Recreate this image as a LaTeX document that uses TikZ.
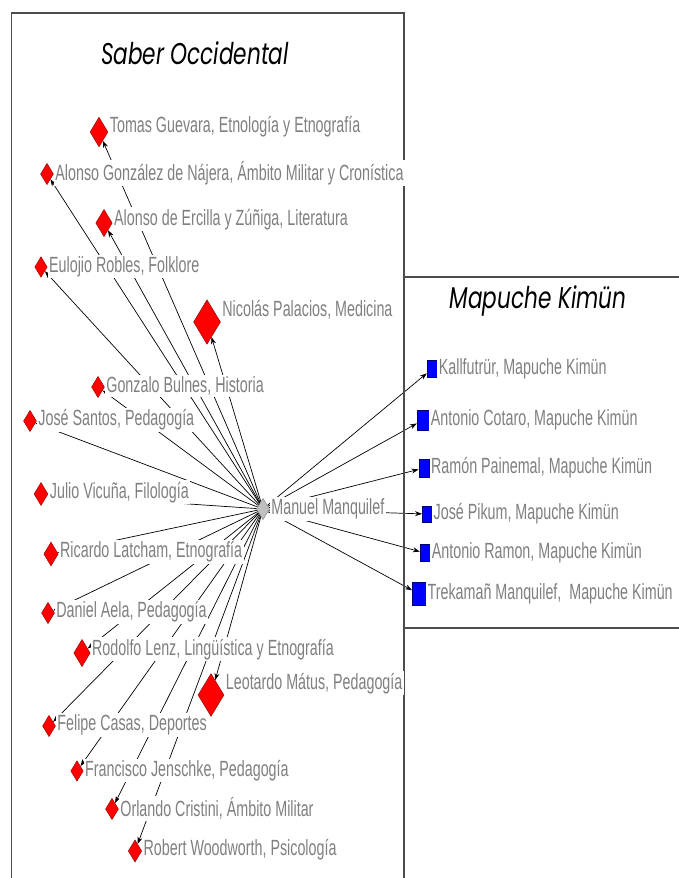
\documentclass[tikz,border=0pt]{standalone}
\usepackage{fontspec}
\setmainfont{Liberation Sans}[FakeStretch=0.65]
\newfontfamily\titulo{Poppins}[FakeStretch=0.72]
\usetikzlibrary{shapes.geometric,arrows.meta,backgrounds}

\tikzset{saber/.style = {diamond, draw=red!55!black, fill=red, inner sep=0pt,
                         minimum width=#1, minimum height=1.65*#1},
         saber/.default=13pt,
         kimun/.style = {rectangle, draw=blue!45!black, fill=blue, inner sep=0pt,
                         minimum width=#1, minimum height=1.7*#1},
         kimun/.default=10pt,
         nombre/.style = {anchor=west, fill=white, inner sep=1.5pt, text=gray,
                          font=\fontsize{22}{24}\selectfont},
         enlace/.style = {-{Stealth[length=7pt,width=5pt]}, line width=0.7pt},
         marco/.style = {line width=1.5pt, draw=black!70},
         cabecera/.style = {font=\titulo\itshape\fontsize{30}{32}\selectfont}
        }

\begin{document}
\begin{tikzpicture}[x=1pt, y=-1pt]
  \useasboundingbox (0,0) rectangle (678,878);
  \draw[marco] (11.5,878) -- (11.5,13) -- (404,13) -- (404,878);
  \draw[marco] (680,277) -- (404,277) (404,628) -- (680,628);

  \node[cabecera] (saber) at (195,53) {Saber Occidental};
  \node[cabecera] (kimun) at (538,301) {Mapuche Kimün};

  \node[saber=18pt]   (guevara)   at (99,132)  {};
  \node[saber]        (najera)    at (47,174)  {};
  \node[saber=16.5pt] (ercilla)   at (104,223) {};
  \node[saber=12.5pt] (robles)    at (41,267)  {};
  \node[saber=27pt]   (palacios)  at (207,322) {};
  \node[saber]        (bulnes)    at (98,387)  {};
  \node[saber]        (santos)    at (30,421)  {};
  \node[saber=14pt]   (vicuna)    at (41,494)  {};
  \node[saber=14.5pt] (latcham)   at (51,554)  {};
  \node[saber]        (aela)      at (48,613)  {};
  \node[saber=16.5pt] (lenz)      at (82,653)  {};
  \node[saber=26pt]   (matus)     at (211,695) {};
  \node[saber]        (casas)     at (49,726)  {};
  \node[saber=12.5pt] (jenschke)  at (77,771)  {};
  \node[saber]        (cristini)  at (112,809) {};
  \node[saber=13.5pt] (woodworth) at (135,851) {};
  \node[saber, draw=gray, fill=lightgray] (manquilef) at (263,509) {};

  \node[kimun]        (kallfutrur) at (432,369) {};
  \node[kimun=12pt]   (cotaro)     at (423,420) {};
  \node[kimun=10.5pt] (painemal)   at (424,468) {};
  \node[kimun=9.5pt]  (pikum)      at (427,514) {};
  \node[kimun]        (ramon)      at (425,553) {};
  \node[kimun=13.5pt] (trekaman)   at (419,594) {};

  \node[nombre] (guevara-n)   at ([yshift=-10pt]guevara.north -| guevara.east)     {Tomas Guevara, Etnología y Etnografía};
  \node[nombre] (najera-n)    at ([yshift=-10pt]najera.north -| najera.east)       {Alonso González de Nájera, Ámbito Militar y Cronística};
  \node[nombre] (ercilla-n)   at ([yshift=-10pt]ercilla.north -| ercilla.east)     {Alonso de Ercilla y Zúñiga, Literatura};
  \node[nombre] (robles-n)    at ([yshift=-10pt]robles.north -| robles.east)       {Eulojio Robles, Folklore};
  \node[nombre] (palacios-n)  at ([yshift=-10pt]palacios.north -| palacios.east)   {Nicolás Palacios, Medicina};
  \node[nombre] (bulnes-n)    at ([yshift=-10pt]bulnes.north -| bulnes.east)       {Gonzalo Bulnes, Historia};
  \node[nombre] (santos-n)    at ([yshift=-10pt]santos.north -| santos.east)       {José Santos, Pedagogía};
  \node[nombre] (vicuna-n)    at ([yshift=-10pt]vicuna.north -| vicuna.east)       {Julio Vicuña, Filología};
  \node[nombre] (latcham-n)   at ([yshift=-10pt]latcham.north -| latcham.east)     {Ricardo Latcham, Etnografía};
  \node[nombre] (aela-n)      at ([yshift=-10pt]aela.north -| aela.east)           {Daniel Aela, Pedagogía};
  \node[nombre] (lenz-n)      at ([yshift=-10pt]lenz.north -| lenz.east)           {Rodolfo Lenz, Lingüística y Etnografía};
  \node[nombre] (matus-n)     at ([yshift=-10pt]matus.north -| matus.east)         {Leotardo Mátus, Pedagogía};
  \node[nombre] (casas-n)     at ([yshift=-10pt]casas.north -| casas.east)         {Felipe Casas, Deportes};
  \node[nombre] (jenschke-n)  at ([yshift=-10pt]jenschke.north -| jenschke.east)   {Francisco Jenschke, Pedagogía};
  \node[nombre] (cristini-n)  at ([yshift=-10pt]cristini.north -| cristini.east)   {Orlando Cristini, Ámbito Militar};
  \node[nombre] (woodworth-n) at ([yshift=-10pt]woodworth.north -| woodworth.east) {Robert Woodworth, Psicología};
  \node[nombre] (manquilef-n) at (manquilef.east) {Manuel Manquilef};

  \node[nombre] (kallfutrur-n) at (kallfutrur.east) {Kallfutrür, Mapuche Kimün};
  \node[nombre] (cotaro-n)     at (cotaro.east)     {Antonio Cotaro, Mapuche Kimün};
  \node[nombre] (painemal-n)   at (painemal.east)   {Ramón Painemal, Mapuche Kimün};
  \node[nombre] (pikum-n)      at (pikum.east)      {José Pikum, Mapuche Kimün};
  \node[nombre] (ramon-n)      at (ramon.east)      {Antonio Ramon, Mapuche Kimün};
  \node[nombre] (trekaman-n)   at (trekaman.east)   {Trekamañ Manquilef,\ \ Mapuche Kimün};

  \begin{scope}[on background layer]
    \path[enlace] (manquilef) edge (guevara)   edge (najera)   edge (ercilla)
                              edge (robles)    edge (palacios) edge (bulnes)
                              edge (santos)    edge (vicuna)   edge (latcham)
                              edge (aela)      edge (lenz)     edge (matus)
                              edge (casas)     edge (jenschke) edge (cristini)
                              edge (woodworth)
                              edge (kallfutrur) edge (cotaro)  edge (painemal)
                              edge (pikum)     edge (ramon)    edge (trekaman);
  \end{scope}
\end{tikzpicture}
\end{document}
